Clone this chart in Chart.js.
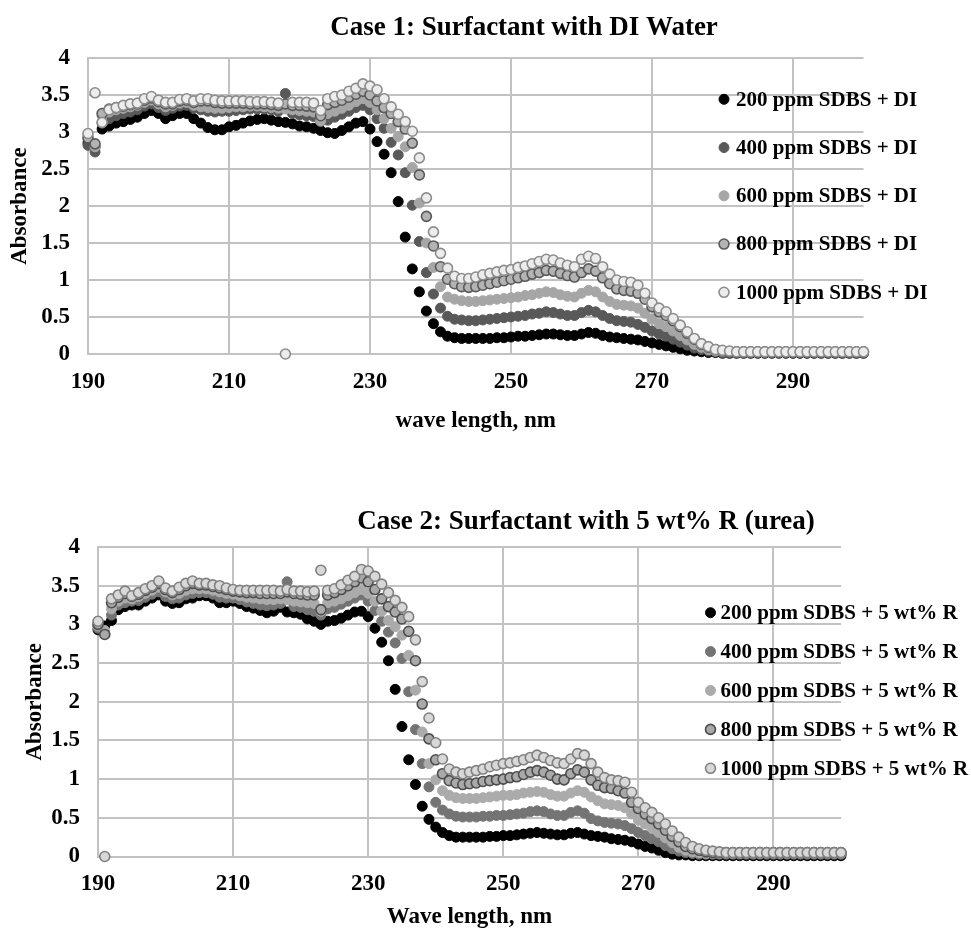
<!DOCTYPE html>
<html>
<head>
<meta charset="utf-8">
<script src="https://cdn.jsdelivr.net/npm/chart.js@4.4.1/dist/chart.umd.min.js"></script>
<style>
  html, body { margin: 0; padding: 0; background: #ffffff; overflow: hidden; }
  canvas { position: absolute; left: 0; }
  #c1 { top: 0; }
  #c2 { top: 470px; }
</style>
</head>
<body>
<canvas id="c1" width="971" height="465"></canvas>
<canvas id="c2" width="971" height="459"></canvas>
<script>
// ---------------- DATA ----------------
const wavelengths = [
  190,191,192,193,194,195,196,197,198,199,
  200,201,202,203,204,205,206,207,208,209,
  210,211,212,213,214,215,216,217,218,219,
  220,221,222,223,224,225,226,227,228,229,
  230,231,232,233,234,235,236,237,238,239,
  240,241,242,243,244,245,246,247,248,249,
  250,251,252,253,254,255,256,257,258,259,
  260,261,262,263,264,265,266,267,268,269,
  270,271,272,273,274,275,276,277,278,279,
  280,281,282,283,284,285,286,287,288,289,
  290,291,292,293,294,295,296,297,298,299,
  300
];

const xTickValues = [190, 210, 230, 250, 270, 290];
const xTickLabels = ['190', '210', '230', '250', '270', '290'];
const yTickValues = [0, 0.5, 1, 1.5, 2, 2.5, 3, 3.5, 4];
const yTickLabels = ['0', '0.5', '1', '1.5', '2', '2.5', '3', '3.5', '4'];

// Case 1: Surfactant with DI Water
const case1Labels = ['200 ppm SDBS + DI', '400 ppm SDBS + DI', '600 ppm SDBS + DI', '800 ppm SDBS + DI', '1000 ppm SDBS + DI'];

const case1_200 = [
  2.85,2.80,3.04,3.08,3.12,3.14,3.17,3.20,3.25,3.29,
  3.25,3.18,3.22,3.25,3.25,3.18,3.12,3.06,3.03,3.03,
  3.07,3.09,3.12,3.15,3.17,3.18,3.16,3.14,3.13,3.11,
  3.08,3.07,3.05,3.02,2.99,2.98,3.02,3.07,3.12,3.14,
  3.04,2.87,2.70,2.45,2.06,1.58,1.15,0.84,0.58,0.41,
  0.30,0.24,0.22,0.21,0.21,0.21,0.21,0.21,0.22,0.22,
  0.23,0.24,0.24,0.25,0.26,0.27,0.27,0.26,0.25,0.25,
  0.27,0.29,0.28,0.25,0.23,0.22,0.21,0.20,0.19,0.17,
  0.15,0.13,0.11,0.09,0.07,0.05,0.04,0.03,0.02,0.02,
  0.01,0.01,0.01,0.01,0.01,0.01,0.01,0.01,0.01,0.01,
  0.01,0.01,0.01,0.01,0.01,0.01,0.01,0.01,0.01,0.01,
  0.01
];
const case1_400 = [
  2.82,2.73,3.12,3.18,3.22,3.25,3.27,3.30,3.35,3.38,
  3.33,3.29,3.32,3.35,3.36,3.32,3.30,3.28,3.27,3.28,
  3.28,3.29,3.30,3.31,3.31,3.31,3.30,3.28,3.52,3.25,
  3.23,3.22,3.21,3.14,3.16,3.20,3.24,3.28,3.33,3.36,
  3.30,3.18,3.05,2.86,2.69,2.45,2.01,1.52,1.10,0.81,
  0.62,0.51,0.47,0.46,0.45,0.45,0.46,0.47,0.48,0.49,
  0.50,0.51,0.52,0.54,0.55,0.57,0.56,0.54,0.52,0.52,
  0.56,0.59,0.57,0.52,0.48,0.45,0.44,0.43,0.40,0.36,
  0.31,0.27,0.24,0.20,0.16,0.12,0.08,0.06,0.04,0.03,
  0.02,0.02,0.02,0.02,0.02,0.02,0.02,0.02,0.02,0.02,
  0.02,0.02,0.02,0.02,0.02,0.02,0.02,0.02,0.02,0.02,
  0.02
];
const case1_600 = [
  2.95,2.80,3.22,3.27,3.30,3.32,3.34,3.36,3.40,3.43,
  3.38,3.34,3.36,3.39,3.40,3.36,3.34,3.33,3.32,3.32,
  3.33,3.34,3.34,3.35,3.35,3.34,3.33,3.32,3.31,3.30,
  3.29,3.28,3.27,3.15,3.25,3.28,3.32,3.36,3.41,3.45,
  3.40,3.30,3.18,3.05,2.94,2.80,2.52,2.04,1.50,1.17,
  0.91,0.77,0.74,0.72,0.71,0.71,0.72,0.73,0.74,0.75,
  0.76,0.77,0.79,0.80,0.82,0.84,0.83,0.80,0.78,0.77,
  0.82,0.86,0.84,0.77,0.71,0.67,0.66,0.65,0.62,0.55,
  0.47,0.41,0.37,0.31,0.25,0.19,0.13,0.09,0.06,0.04,
  0.03,0.03,0.03,0.03,0.03,0.03,0.03,0.03,0.03,0.03,
  0.03,0.03,0.03,0.03,0.03,0.03,0.03,0.03,0.03,0.03,
  0.03
];
const case1_800 = [
  2.92,2.84,3.25,3.31,3.33,3.35,3.37,3.38,3.43,3.46,
  3.41,3.38,3.38,3.42,3.43,3.40,3.42,3.42,3.40,3.39,
  3.39,3.39,3.39,3.38,3.38,3.38,3.37,3.36,3.38,3.36,
  3.36,3.35,3.34,3.22,3.37,3.40,3.43,3.47,3.51,3.55,
  3.50,3.42,3.33,3.25,3.14,3.04,2.85,2.42,1.86,1.46,
  1.18,1.01,0.95,0.91,0.90,0.91,0.93,0.95,0.97,0.99,
  1.01,1.03,1.05,1.08,1.10,1.13,1.12,1.09,1.06,1.04,
  1.10,1.15,1.12,1.03,0.95,0.88,0.86,0.85,0.82,0.74,
  0.64,0.57,0.52,0.45,0.37,0.28,0.20,0.13,0.09,0.06,
  0.04,0.03,0.03,0.03,0.03,0.03,0.03,0.03,0.03,0.03,
  0.03,0.03,0.03,0.03,0.03,0.03,0.03,0.03,0.03,0.03,
  0.03
];
const case1_1000 = [
  2.98,3.53,3.13,3.30,3.33,3.36,3.38,3.39,3.45,3.48,
  3.43,3.40,3.40,3.44,3.45,3.42,3.45,3.45,3.43,3.42,
  3.42,3.42,3.42,3.41,3.41,3.41,3.40,3.39,0.00,3.40,
  3.40,3.40,3.39,3.29,3.45,3.48,3.50,3.55,3.59,3.65,
  3.62,3.57,3.45,3.34,3.24,3.14,3.01,2.65,2.11,1.65,
  1.36,1.16,1.05,1.02,1.02,1.04,1.07,1.09,1.11,1.13,
  1.14,1.17,1.19,1.22,1.25,1.28,1.27,1.23,1.20,1.18,
  1.28,1.32,1.29,1.18,1.08,1.00,0.98,0.97,0.93,0.82,
  0.69,0.62,0.57,0.48,0.39,0.30,0.21,0.14,0.10,0.06,
  0.05,0.04,0.03,0.03,0.03,0.03,0.03,0.03,0.03,0.03,
  0.03,0.03,0.03,0.03,0.03,0.03,0.03,0.03,0.03,0.03,
  0.03
];

// Case 2: Surfactant with 5 wt% R (urea)
const case2Labels = ['200 ppm SDBS + 5 wt% R', '400 ppm SDBS + 5 wt% R', '600 ppm SDBS + 5 wt% R', '800 ppm SDBS + 5 wt% R', '1000 ppm SDBS + 5 wt% R'];

const case2_200 = [
  2.93,2.98,3.05,3.19,3.23,3.25,3.25,3.30,3.34,3.38,
  3.30,3.27,3.28,3.33,3.34,3.37,3.37,3.34,3.28,3.28,
  3.30,3.27,3.23,3.21,3.18,3.15,3.17,3.22,3.16,3.15,
  3.13,3.07,3.04,3.00,3.04,3.05,3.08,3.12,3.16,3.17,
  3.10,2.95,2.77,2.53,2.16,1.68,1.25,0.93,0.65,0.48,
  0.38,0.31,0.27,0.25,0.25,0.25,0.25,0.25,0.26,0.26,
  0.27,0.27,0.28,0.29,0.30,0.31,0.30,0.29,0.28,0.28,
  0.30,0.31,0.29,0.27,0.26,0.25,0.23,0.22,0.21,0.19,
  0.16,0.13,0.11,0.08,0.05,0.03,0.02,0.02,0.01,0.01,
  0.01,0.01,0.01,0.01,0.01,0.01,0.01,0.01,0.01,0.01,
  0.01,0.01,0.01,0.01,0.01,0.01,0.01,0.01,0.01,0.01,
  0.01
];
const case2_400 = [
  2.95,2.88,3.12,3.25,3.28,3.30,3.31,3.35,3.39,3.42,
  3.36,3.33,3.34,3.38,3.40,3.41,3.41,3.39,3.35,3.34,
  3.34,3.32,3.29,3.27,3.25,3.24,3.25,3.27,3.55,3.23,
  3.22,3.19,3.17,3.12,3.20,3.22,3.26,3.30,3.34,3.38,
  3.30,3.18,3.04,2.90,2.76,2.56,2.13,1.64,1.20,0.90,
  0.70,0.60,0.55,0.52,0.51,0.51,0.51,0.52,0.52,0.53,
  0.53,0.54,0.55,0.56,0.58,0.59,0.58,0.55,0.53,0.53,
  0.57,0.59,0.56,0.49,0.46,0.44,0.43,0.42,0.40,0.36,
  0.31,0.27,0.23,0.19,0.14,0.10,0.07,0.05,0.04,0.03,
  0.03,0.03,0.03,0.03,0.03,0.03,0.03,0.03,0.03,0.03,
  0.03,0.03,0.03,0.03,0.03,0.03,0.03,0.03,0.03,0.03,
  0.03
];
const case2_600 = [
  2.98,2.92,3.20,3.30,3.34,3.33,3.36,3.40,3.44,3.48,
  3.42,3.38,3.40,3.44,3.46,3.46,3.46,3.44,3.42,3.40,
  3.39,3.37,3.35,3.34,3.33,3.32,3.32,3.33,3.32,3.30,
  3.29,3.28,3.27,3.17,3.28,3.30,3.33,3.37,3.41,3.45,
  3.40,3.30,3.17,3.05,2.97,2.86,2.60,2.15,1.61,1.20,
  0.99,0.85,0.79,0.76,0.75,0.75,0.75,0.76,0.77,0.78,
  0.79,0.79,0.80,0.82,0.83,0.84,0.83,0.80,0.78,0.78,
  0.82,0.85,0.83,0.77,0.72,0.68,0.67,0.66,0.63,0.55,
  0.47,0.42,0.37,0.31,0.24,0.18,0.12,0.08,0.06,0.05,
  0.04,0.04,0.04,0.04,0.04,0.04,0.04,0.04,0.04,0.04,
  0.04,0.04,0.04,0.04,0.04,0.04,0.04,0.04,0.04,0.04,
  0.04
];
const case2_800 = [
  3.00,2.87,3.28,3.35,3.40,3.36,3.39,3.44,3.48,3.53,
  3.45,3.41,3.45,3.50,3.53,3.51,3.51,3.49,3.47,3.45,
  3.43,3.42,3.41,3.41,3.40,3.40,3.40,3.40,3.42,3.40,
  3.39,3.38,3.38,3.19,3.38,3.41,3.45,3.50,3.55,3.60,
  3.55,3.45,3.33,3.23,3.16,3.07,2.91,2.53,1.97,1.52,
  1.25,1.07,0.98,0.95,0.93,0.94,0.95,0.97,0.98,0.99,
  1.00,1.02,1.03,1.06,1.09,1.11,1.09,1.05,1.00,0.99,
  1.07,1.12,1.09,0.99,0.92,0.89,0.88,0.85,0.82,0.70,
  0.62,0.55,0.49,0.42,0.34,0.26,0.19,0.13,0.10,0.08,
  0.06,0.05,0.05,0.05,0.05,0.05,0.05,0.05,0.05,0.05,
  0.05,0.05,0.05,0.05,0.05,0.05,0.05,0.05,0.05,0.05,
  0.05
];
const case2_1000 = [
  3.04,0.00,3.33,3.38,3.43,3.37,3.41,3.46,3.50,3.56,
  3.47,3.43,3.48,3.53,3.56,3.53,3.53,3.51,3.50,3.47,
  3.45,3.44,3.44,3.44,3.44,3.44,3.44,3.43,3.45,3.43,
  3.43,3.42,3.43,3.70,3.44,3.46,3.51,3.57,3.62,3.71,
  3.69,3.62,3.52,3.41,3.31,3.22,3.10,2.80,2.26,1.79,
  1.47,1.26,1.13,1.09,1.07,1.09,1.11,1.13,1.16,1.18,
  1.20,1.21,1.23,1.25,1.28,1.31,1.28,1.24,1.21,1.20,
  1.26,1.33,1.31,1.20,1.09,1.02,0.99,0.98,0.96,0.83,
  0.70,0.63,0.57,0.50,0.42,0.33,0.25,0.18,0.13,0.10,
  0.08,0.07,0.06,0.05,0.05,0.05,0.05,0.05,0.05,0.05,
  0.05,0.05,0.05,0.05,0.05,0.05,0.05,0.05,0.05,0.05,
  0.05
];

// ---------------- RENDERING ----------------
const SERIF = "'Liberation Serif', 'Times New Roman', serif";

const overlayPlugin = {
  id: 'overlay',
  afterDraw(chart, args, o) {
    const ctx = chart.ctx;
    ctx.save();
    ctx.fillStyle = '#000';
    ctx.font = 'bold ' + o.titleSize + 'px ' + SERIF;
    ctx.textAlign = 'center';
    ctx.textBaseline = 'alphabetic';
    ctx.fillText(o.title, o.titleX, o.titleY);

    ctx.font = 'bold ' + o.legendSize + 'px ' + SERIF;
    ctx.textAlign = 'left';
    ctx.textBaseline = 'middle';
    chart.data.datasets.forEach((ds, i) => {
      const y = o.legendY + i * o.legendDy;
      ctx.beginPath();
      ctx.arc(o.markerX, y, ds.pointRadius, 0, Math.PI * 2);
      ctx.fillStyle = ds.pointBackgroundColor;
      ctx.fill();
      ctx.lineWidth = ds.pointBorderWidth;
      ctx.strokeStyle = ds.pointBorderColor;
      ctx.stroke();
      ctx.fillStyle = '#000';
      ctx.fillText(ds.label, o.textX, y + 1);
    });
    ctx.restore();
  }
};

function buildDatasets(labels, seriesList, styles) {
  return seriesList.map((vals, i) => ({
    label: labels[i],
    data: wavelengths.map((w, k) => ({ x: w, y: vals[k] })),
    pointRadius: 5,
    pointBackgroundColor: styles[i].fill,
    pointBorderColor: styles[i].stroke,
    pointBorderWidth: styles[i].width,
    backgroundColor: styles[i].fill,
    borderColor: styles[i].stroke,
    showLine: false,
    clip: false,
    order: seriesList.length - i
  }));
}

function makeChart(id, datasets, layout, overlay, xTitle) {
  const gridColor = '#c2c2c2';
  return new Chart(document.getElementById(id), {
    type: 'scatter',
    data: { datasets },
    plugins: [overlayPlugin],
    options: {
      responsive: false,
      animation: false,
      devicePixelRatio: 1,
      events: [],
      layout: { padding: layout.padding },
      plugins: {
        legend: { display: false },
        title: { display: false },
        tooltip: { enabled: false },
        overlay
      },
      scales: {
        x: {
          type: 'linear',
          min: 190,
          max: 300,
          afterBuildTicks: (axis) => { axis.ticks = xTickValues.map(v => ({ value: v })); },
          afterFit: (scale) => { scale.height = layout.xHeight; },
          grid: { color: gridColor, lineWidth: 2, drawTicks: false },
          border: { color: gridColor, width: 2 },
          ticks: {
            autoSkip: false,
            maxRotation: 0,
            padding: 14,
            color: '#000',
            font: { family: SERIF, size: 23, weight: 'bold' },
            callback: (v, i) => xTickLabels[i]
          },
          title: {
            display: true,
            text: xTitle,
            color: '#000',
            padding: { top: 0, bottom: 0 },
            font: { family: SERIF, size: 23, weight: 'bold', lineHeight: 1 }
          }
        },
        y: {
          type: 'linear',
          min: 0,
          max: 4,
          afterBuildTicks: (axis) => { axis.ticks = yTickValues.map(v => ({ value: v })); },
          afterFit: (scale) => { scale.width = layout.yWidth; },
          grid: { color: gridColor, lineWidth: 2, drawTicks: false },
          border: { color: gridColor, width: 2 },
          ticks: {
            padding: 18,
            color: '#000',
            font: { family: SERIF, size: 23, weight: 'bold' },
            callback: (v, i) => yTickLabels[i]
          },
          title: {
            display: true,
            text: 'Absorbance',
            color: '#000',
            padding: { top: layout.yTitlePad, bottom: 0 },
            font: { family: SERIF, size: 23, weight: 'bold', lineHeight: 1 }
          }
        }
      }
    }
  });
}

const styles1 = [
  { fill: '#000000', stroke: '#000000', width: 1 },
  { fill: '#595959', stroke: '#595959', width: 1 },
  { fill: '#a6a6a6', stroke: '#a6a6a6', width: 1 },
  { fill: '#b3b3b3', stroke: '#595959', width: 1.6 },
  { fill: '#ececec', stroke: '#8c8c8c', width: 1.6 }
];
const styles2 = [
  { fill: '#000000', stroke: '#000000', width: 1 },
  { fill: '#747474', stroke: '#747474', width: 1 },
  { fill: '#ababab', stroke: '#ababab', width: 1 },
  { fill: '#a9a9a9', stroke: '#4d4d4d', width: 1.6 },
  { fill: '#d8d8d8', stroke: '#808080', width: 1.6 }
];

makeChart('c1',
  buildDatasets(case1Labels, [case1_200, case1_400, case1_600, case1_800, case1_1000], styles1),
  { padding: { top: 58, left: 0, right: 107.5, bottom: 32 }, xHeight: 79, yWidth: 88, yTitlePad: 9 },
  { title: 'Case 1: Surfactant with DI Water', titleSize: 27, titleX: 524, titleY: 34.5,
    legendSize: 21, markerX: 724, textX: 736, legendY: 99.3, legendDy: 48.25 },
  'wave length, nm');

makeChart('c2',
  buildDatasets(case2Labels, [case2_200, case2_400, case2_600, case2_800, case2_1000], styles2),
  { padding: { top: 77, left: 0, right: 130, bottom: 0 }, xHeight: 72.5, yWidth: 98, yTitlePad: 24 },
  { title: 'Case 2: Surfactant with 5 wt% R (urea)', titleSize: 27, titleX: 586, titleY: 59.3,
    legendSize: 21, markerX: 710.5, textX: 720.5, legendY: 142.7, legendDy: 38.9 },
  'Wave length, nm');
</script>
</body>
</html>
